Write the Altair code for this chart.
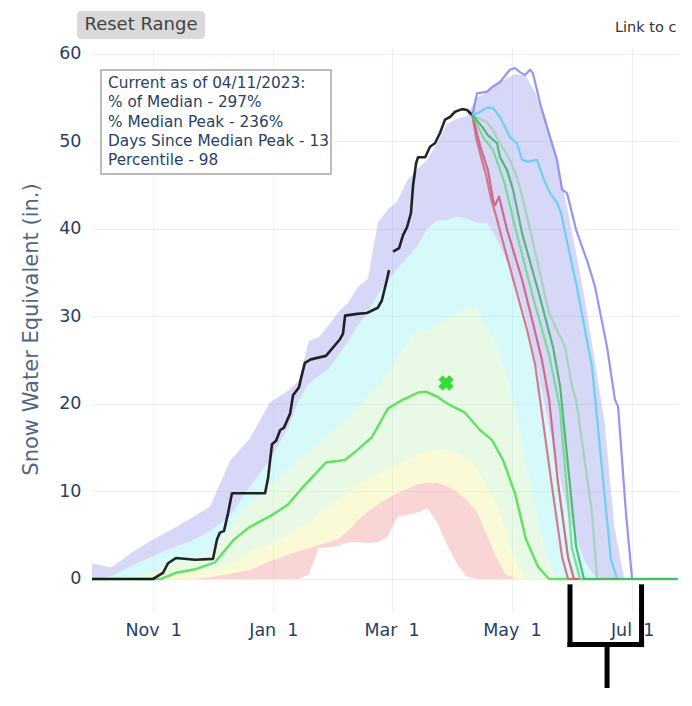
import altair as alt
import pandas as pd

# Water-year axis (dummy leap year, as the source chart uses for its date axis)
BASE = pd.Timestamp("2019-10-01")

# ---- percentile envelope (days since Oct 1, SWE inches) ----
GRID_DAYS = [0, 10, 20, 30, 40, 50, 60, 70, 80, 90, 100, 105, 110, 115, 120, 125, 130, 135,
             140, 145, 150, 155, 160, 165, 170, 175, 180, 185, 190, 195, 200, 205, 210, 215,
             220, 225, 230, 235, 240, 245, 250, 255, 260, 265, 270, 280, 297]
MAX_SWE = [1.8, 1.3, 3.0, 4.4, 5.6, 6.9, 8.3, 13.5, 16.0, 20.1, 21.6, 22.7, 27.2, 27.6, 29.0,
           30.5, 31.6, 33.4, 34.3, 40.7, 42.2, 43.2, 45.6, 46.8, 47.9, 49.8, 52.0, 52.6, 52.9,
           55.0, 55.6, 56.4, 57.2, 57.7, 57.5, 55.5, 52.5, 48.5, 43.5, 38.0, 32.0, 25.0, 18.0,
           6.0, 0, 0, 0]
P90_SWE = [0, 0.3, 1.5, 2.5, 3.5, 4.3, 5.5, 7.2, 10.5, 13.5, 17.5, 20.5, 22.3, 23.2, 24.0,
           25.6, 27.2, 29.0, 30.5, 32.5, 34.0, 35.5, 36.8, 38.0, 40.0, 41.0, 41.0, 41.4, 41.2,
           40.7, 40.7, 39.0, 36.5, 33.8, 30.0, 25.0, 19.5, 14.0, 9.0, 5.0, 2.0, 0.3, 0, 0, 0, 0, 0]
P70_SWE = [0, 0, 0.2, 0.8, 1.8, 2.4, 3.0, 6.0, 8.5, 10.5, 12.8, 13.8, 14.5, 15.5, 16.5, 17.5,
           18.5, 19.7, 21.0, 22.0, 23.5, 25.5, 27.0, 28.5, 28.3, 29.0, 29.7, 30.3, 31.0, 31.1,
           28.8, 27.0, 23.5, 19.5, 13.5, 8.0, 3.0, 0.5, 0, 0, 0, 0, 0, 0, 0, 0, 0]
P30_SWE = [0, 0, 0, 0, 0.3, 0.8, 1.1, 1.6, 3.0, 4.0, 5.0, 5.8, 6.5, 7.5, 8.3, 9.0, 9.8, 10.7,
           11.5, 12.0, 12.6, 13.2, 13.6, 14.2, 14.5, 14.7, 14.7, 14.3, 13.8, 12.8, 10.5, 8.5,
           5.5, 1.8, 0, 0, 0, 0, 0, 0, 0, 0, 0, 0, 0, 0, 0]
P10_SWE = [0, 0, 0, 0, 0, 0, 0.2, 0.6, 1.0, 2.0, 2.8, 3.2, 3.5, 3.9, 4.2, 4.6, 5.5, 6.7, 7.7,
           8.5, 9.2, 9.8, 10.3, 10.8, 11.0, 11.0, 10.6, 10.0, 9.0, 7.8, 5.2, 2.5, 0.5, 0, 0, 0,
           0, 0, 0, 0, 0, 0, 0, 0, 0, 0, 0]
MIN_SWE = [0, 0, 0, 0, 0, 0, 0, 0, 0, 0, 0, 0, 0.5, 3.5, 3.6, 3.8, 4.2, 4.2, 4.1, 4.2, 4.8,
           7.1, 7.3, 7.6, 8.1, 6.5, 4.0, 1.8, 0.3, 0, 0, 0, 0, 0, 0, 0, 0, 0, 0, 0, 0, 0, 0,
           0, 0, 0, 0]

BAND_NAMES = ["90% - Max", "70% - 90%", "30% - 70%", "10% - 30%", "Min - 10%"]
BAND_COLORS = ["#8d8de8", "#8aeef1", "#bdf1b8", "#f4f18a", "#ee8787"]

# ---- median ----
MED_DAYS = [0, 35, 42.6, 52.3, 62.4, 72, 79.7, 91.3, 99.4, 107, 118.7, 128.4, 134.4, 142,
            150.2, 157.8, 165.4, 169.5, 175.5, 179.1, 183.2, 189.2, 196.9, 202.9, 208.5,
            214.6, 220.2, 226.3, 231.9, 297]
MED_SWE = [0, 0, 0.7, 1.1, 1.9, 4.5, 5.9, 7.3, 8.5, 10.5, 13.3, 13.6, 14.7, 16.2, 19.5, 20.5,
           21.3, 21.4, 20.8, 20.2, 19.7, 19.0, 17.0, 15.9, 13.6, 9.8, 4.5, 1.4, 0, 0]
MED_PEAK_DAY = [179.6]
MED_PEAK_SWE = [22.4]

# ---- current water year (two segments: gap in record) ----
CUR_DAYS = [0, 31, 36, 38.6, 42.6, 52.3, 61.4, 63.4, 64.9, 67, 69, 71, 87.8, 89.3, 91.3, 93.4,
            95.4, 97.4, 100.5, 102, 105, 106, 108, 111, 118.7, 125.8, 127.3, 128.4, 134.4,
            139.5, 145, 147, 149.2, 150.7,
            152.7, 155.8, 157.8, 159.8, 161.8, 162.9, 164.4, 165.4, 169, 171.5, 174, 176.6,
            179.1, 181.6, 184.2, 187.7, 190.3, 193]
CUR_SWE = [0, 0, 0.7, 1.8, 2.4, 2.2, 2.3, 4.5, 5.3, 5.5, 7.5, 9.8, 9.8, 11.5, 15.4, 15.8, 17,
           17.3, 18.9, 21, 21.9, 22.9, 24.7, 25.1, 25.5, 27.4, 28, 30.1, 30.3, 30.4, 31, 31.8,
           33.8, 35.3,
           37.4, 37.8, 39.3, 40.2, 41.8, 45, 47.5, 48.2, 48.2, 49.4, 49.8, 51, 52.5, 52.8,
           53.4, 53.7, 53.6, 53.0]
CUR_SEG = [1] * 34 + [2] * 18

# ---- projections from 04/11 ----
PROJ_NAMES = ["purple", "cyan", "graygreen", "red1", "red2", "green2", "green1"]
PROJ_COLORS = ["#8b8bf0", "#5fd0f2", "#9fd4b2", "#d46b85", "#cf6079", "#6edc8a", "#3fb86a"]
PROJ_DAYS = [
    [193, 195.3, 200.4, 202.9, 207, 212, 214.6, 217.2, 219.7, 222.2, 223.7, 227.3, 230.8,
     235.9, 238.5, 241, 245.6, 251.6, 255.2, 261.3, 265.3, 266.9, 270.9, 274, 297],
    [193, 196.9, 200.9, 203.5, 207, 212, 215.6, 218.2, 221.2, 225.8, 228.8, 232.4, 235.9,
     238, 241.5, 245.6, 253.7, 259.3, 263.3, 266.4, 297],
    [193, 200.4, 203.5, 207, 212, 215.6, 218.7, 224.2, 231.9, 240, 243.5, 245.6, 253.7,
     256.2, 297],
    [193, 194.8, 197.4, 199.9, 202.4, 205, 208.5, 214.6, 220.7, 224.8, 227.3, 233.4, 238.5,
     241.5, 297],
    [193, 196.9, 200.9, 203.5, 204.5, 206.5, 208.5, 210.6, 218.2, 224.2, 228.3, 231.9, 236.4,
     241.5, 244.5, 297],
    [193, 198.4, 203.5, 209, 216, 224, 232, 237.4, 243.5, 247.6, 297],
    [193, 197.9, 200.9, 205.5, 207, 210.6, 213.6, 218.2, 226.3, 233.9, 237.5, 245.6, 249.6,
     297],
]
PROJ_SWE = [
    [53.0, 55.5, 55.7, 56.2, 56.8, 58.2, 58.4, 57.9, 57.6, 58.2, 57.8, 54.4, 51.7, 47.9, 44.5,
     44.1, 39.9, 36.1, 33.4, 26.5, 20.5, 19.7, 7.5, 0, 0],
    [53.0, 53.4, 53.9, 53.8, 52.8, 50.5, 49.8, 47.9, 47.7, 47.9, 45.9, 44.1, 43.0, 41.8, 38.0,
     33.8, 24.2, 11.3, 2.2, 0, 0],
    [53.0, 52.2, 51.3, 49.8, 47.9, 45.9, 43.3, 38.0, 30.4, 26.5, 22.0, 20.5, 7.5, 0, 0],
    [53.0, 50.5, 48.2, 46.2, 43.5, 41.5, 38.5, 33.5, 28.5, 24.5, 20.5, 10.5, 2.5, 0, 0],
    [53.0, 49.5, 46.7, 43.3, 42.7, 43.7, 41.8, 39.9, 34.2, 28.8, 25.0, 20.5, 11.0, 2.5, 0, 0],
    [53.0, 50.5, 49.0, 45.5, 39.0, 32.0, 25.5, 19.5, 3.5, 0, 0],
    [53.0, 51.7, 50.7, 49.8, 48.2, 46.7, 44.5, 39.5, 33.0, 26.5, 22.0, 3.7, 0, 0],
]

# ---- texts ----
ANNOT_LINES = ["Current as of 04/11/2023:", "% of Median - 297%", "% Median Peak - 236%",
               "Days Since Median Peak - 13", "Percentile - 98"]
Y_TITLE = "Snow Water Equivalent (in.)"
Y_TICKS = [0, 10, 20, 30, 40, 50, 60]
X_TICKS = [(2019, 11, 1), (2020, 1, 1), (2020, 3, 1), (2020, 5, 1), (2020, 7, 1)]

# bracket annotation below the axis (days, inches)
BRACKET_X1 = [242.5, 278.8, 242.5, 261.3]
BRACKET_X2 = [242.5, 278.8, 278.8, 261.3]
BRACKET_Y1 = [-0.9, -0.9, -7.5, -7.5]
BRACKET_Y2 = [-7.5, -7.5, -7.5, -15.0]

FONT = "DejaVu Sans"


def to_dates(days):
    return [BASE + pd.Timedelta(days=float(d)) for d in days]


X_SCALE = alt.Scale(domain=[alt.DateTime(year=2019, month=10, date=1),
                            alt.DateTime(year=2020, month=7, date=24, hours=7)])
Y_SCALE = alt.Scale(domain=[-3.66, 60.8], nice=False, zero=False)
X_AXIS = alt.Axis(values=[alt.DateTime(year=y, month=m, date=d) for y, m, d in X_TICKS],
                  format="%b\u00a0%e", title=None, labelAngle=0, labelPadding=10)
Y_AXIS = alt.Axis(values=Y_TICKS, title=Y_TITLE, labelPadding=11, titlePadding=17)


def xe(field):
    return alt.X(f"{field}:T", scale=X_SCALE, axis=X_AXIS)


def ye(field):
    return alt.Y(f"{field}:Q", scale=Y_SCALE, axis=Y_AXIS)


# bands
band_rows = []
lows = [P90_SWE, P70_SWE, P30_SWE, P10_SWE, MIN_SWE]
highs = [MAX_SWE, P90_SWE, P70_SWE, P30_SWE, P10_SWE]
grid_dates = to_dates(GRID_DAYS)
for name, lo, hi in zip(BAND_NAMES, lows, highs):
    for dt, a, b in zip(grid_dates, lo, hi):
        band_rows.append({"date": dt, "lo": a, "hi": b, "band": name})
band_df = pd.DataFrame(band_rows)

bands = alt.Chart(band_df).mark_area(fillOpacity=0.35, interpolate="linear").encode(
    x=xe("date"), y=ye("lo"), y2="hi:Q",
    color=alt.Color("band:N", scale=alt.Scale(domain=BAND_NAMES, range=BAND_COLORS), legend=None),
)

med_df = pd.DataFrame({"date": to_dates(MED_DAYS), "swe": MED_SWE})
median = alt.Chart(med_df).mark_line(color="#66e066", strokeWidth=2.5, strokeJoin="round").encode(
    x=xe("date"), y=ye("swe"))

cur_df = pd.DataFrame({"date": to_dates(CUR_DAYS), "swe": CUR_SWE, "seg": CUR_SEG})
current = alt.Chart(cur_df).mark_line(color="#000000", strokeWidth=2.6, strokeJoin="round",
                                      opacity=0.85).encode(
    x=xe("date"), y=ye("swe"), detail="seg:N")

proj_layers = []
for name, color, days, vals in zip(PROJ_NAMES, PROJ_COLORS, PROJ_DAYS, PROJ_SWE):
    pdf = pd.DataFrame({"date": to_dates(days), "swe": vals})
    proj_layers.append(
        alt.Chart(pdf).mark_line(color=color, strokeWidth=2.2, opacity=0.9, strokeJoin="round").encode(
            x=xe("date"), y=ye("swe")))

peak_df = pd.DataFrame({"date": to_dates(MED_PEAK_DAY), "swe": MED_PEAK_SWE})
peak = alt.Chart(peak_df).mark_point(shape="cross", angle=45, filled=True, size=240,
                                     color="#33dd33", opacity=1).encode(x=xe("date"), y=ye("swe"))

br_df = pd.DataFrame({"x1": to_dates(BRACKET_X1), "x2": to_dates(BRACKET_X2),
                      "y1": BRACKET_Y1, "y2": BRACKET_Y2})
bracket = alt.Chart(br_df).mark_rule(color="#000000", strokeWidth=5, strokeCap="square").encode(
    x=xe("x1"), x2="x2:T", y=ye("y1"), y2="y2:Q")

ONE = pd.DataFrame({"k": [0]})
box = alt.Chart(ONE).mark_rect(fill="#ffffff", stroke="#a6a6a6", strokeWidth=1.5).encode(
    x=alt.value(9), x2=alt.value(239), y=alt.value(23), y2=alt.value(127))
box_text = alt.Chart(ONE).mark_text(text=ANNOT_LINES, align="left", baseline="top",
                                    lineHeight=19.3, font=FONT, fontSize=15.3,
                                    color="#2a3f5f").encode(x=alt.value(16), y=alt.value(29))
button = alt.Chart(ONE).mark_rect(fill="#d9d9d9", cornerRadius=4).encode(
    x=alt.value(-15), x2=alt.value(113), y=alt.value(-36), y2=alt.value(-8))
button_text = alt.Chart(ONE).mark_text(text="Reset Range", align="center", baseline="middle",
                                       font=FONT, fontSize=18, color="#444444").encode(
    x=alt.value(49), y=alt.value(-22))
link_text = alt.Chart(ONE).mark_text(text="Link to c", align="left", baseline="middle",
                                     font=FONT, fontSize=14.5, color="#333333").encode(
    x=alt.value(523), y=alt.value(-19))

chart = alt.layer(bands, median, current, *proj_layers, peak, bracket, box, box_text,
                  button, button_text, link_text).properties(
    width=586, height=564,
    autosize=alt.AutoSizeParams(type="none"),
    padding={"left": 84, "top": 39, "right": 6, "bottom": 77},
    background="#ffffff",
).configure_axis(
    labelFont=FONT, labelFontSize=17.5, labelColor="#2a3f5f",
    grid=True, gridColor="#ebf0f8", gridWidth=1, ticks=False, domain=False,
    titleFont=FONT, titleFontSize=21, titleFontWeight="normal", titleColor="#506784",
).configure_view(stroke="transparent")

chart.save("out.html", embed_options={"renderer": "svg", "actions": False})
